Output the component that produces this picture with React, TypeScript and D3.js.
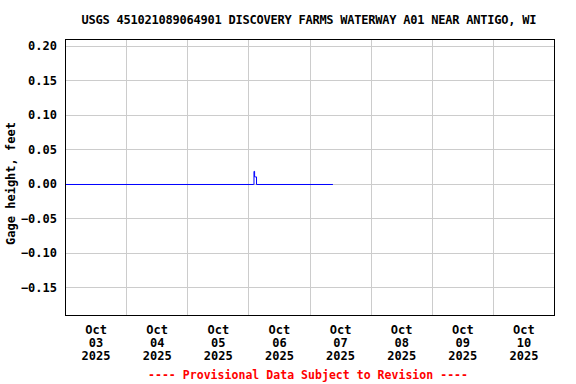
import React from "react";
import * as d3 from "d3";

const title = "USGS 451021089064901 DISCOVERY FARMS WATERWAY A01 NEAR ANTIGO, WI";
const yLabel = "Gage height, feet";
const footer = "---- Provisional Data Subject to Revision ----";

const times = [
  "2025-10-03T00:00",
  "2025-10-06T01:45",
  "2025-10-06T02:00",
  "2025-10-06T02:15",
  "2025-10-06T02:45",
  "2025-10-06T03:00",
  "2025-10-07T09:00",
];
const values = [0, 0, 0.019, 0.011, 0.011, 0, 0];

const yTicks = [-0.15, -0.1, -0.05, 0, 0.05, 0.1, 0.15, 0.2];
const dayTicks = [
  "2025-10-03", "2025-10-04", "2025-10-05", "2025-10-06",
  "2025-10-07", "2025-10-08", "2025-10-09", "2025-10-10",
];
const xStart = "2025-10-03T00:00";
const xEnd = "2025-10-11T00:00";
const yDomain = [-0.18986, 0.21014];

const W = 576, H = 384;
const M = { left: 65.5, right: 554.5, top: 39.5, bottom: 315.5 };
const FONT = "'DejaVu Sans Mono', monospace";

export default function App() {
  const parse = d3.utcParse("%Y-%m-%dT%H:%M");
  const parseDay = d3.utcParse("%Y-%m-%d");
  const x = d3.scaleUtc().domain([parse(xStart)!, parse(xEnd)!]).range([M.left, M.right]);
  const y = d3.scaleLinear().domain(yDomain).range([M.bottom, M.top]);
  const data = times.map((t, i) => ({ t: parse(t)!, v: values[i] }));
  const line = d3.line<{ t: Date; v: number }>().x(d => x(d.t)).y(d => y(d.v)).curve(d3.curveStepAfter);
  const days = dayTicks.map(d => parseDay(d)!);
  const fmtMon = d3.utcFormat("%b");
  const fmtDay = d3.utcFormat("%d");
  const fmtYr = d3.utcFormat("%Y");
  const fmtY = d3.format(".2f");
  const px = (v: number) => Math.floor(v) + 0.5;

  return (
    <svg width={W} height={H} style={{ position: "absolute", left: 0, top: 0, background: "#fff" }}
      fontFamily={FONT} fontWeight="bold">
      <text x={309} y={24} fontSize={12} textAnchor="middle" textLength={455} lengthAdjust="spacing">{title}</text>
      {yTicks.map(t => (
        <line key={"gy" + t} x1={M.left} x2={M.right} y1={px(y(t))} y2={px(y(t))}
          stroke="#cccccc" strokeWidth={1} />
      ))}
      {days.slice(1).map((d, i) => (
        <line key={"gx" + i} x1={px(x(d))} x2={px(x(d))} y1={M.top} y2={M.bottom}
          stroke="#cccccc" strokeWidth={1} />
      ))}
      <path d={line(data) || ""} fill="none" stroke="#0000ff" strokeWidth={1} />
      <rect x={M.left} y={M.top} width={M.right - M.left} height={M.bottom - M.top}
        fill="none" stroke="#000" strokeWidth={1} />
      {yTicks.map(t => (
        <text key={"ty" + t} x={57} y={y(t) + 4} fontSize={12} textAnchor="end">{fmtY(t)}</text>
      ))}
      <text transform={`translate(15,${(M.top + M.bottom) / 2 + 6}) rotate(-90)`} fontSize={12} textAnchor="middle">{yLabel}</text>
      {days.map((d, i) => {
        const cx = x(d3.utcHour.offset(d, 12));
        return (
          <g key={"tx" + i} fontSize={12} textAnchor="middle">
            <text x={cx} y={334}>{fmtMon(d)}</text>
            <text x={cx} y={347}>{fmtDay(d)}</text>
            <text x={cx} y={360}>{fmtYr(d)}</text>
          </g>
        );
      })}
      <text x={308} y={379} fontSize={11.5} textAnchor="middle" fill="#ff0000" textLength={320} lengthAdjust="spacing">{footer}</text>
    </svg>
  );
}
